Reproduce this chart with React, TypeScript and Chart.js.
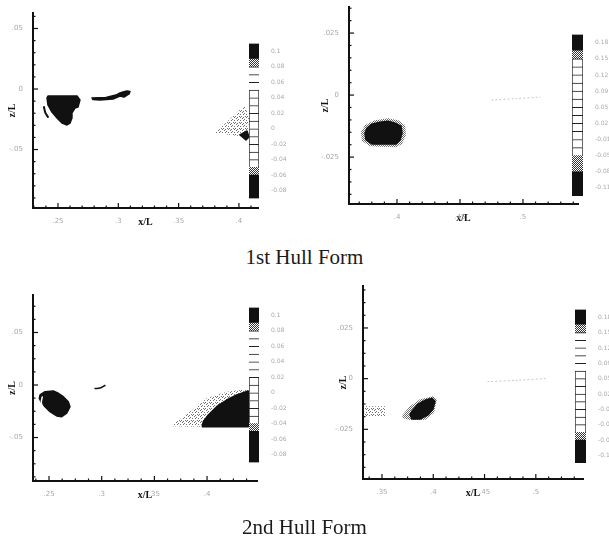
import React, { useEffect, useRef } from 'react';
import { Chart, registerables } from 'chart.js';
Chart.register(...registerables);

// ---------- Panel 1 (1st hull form, left) ----------
const P1_X_RANGE = [0.2293, 0.4158];
const P1_Z_RANGE = [-0.0983, 0.0628];
const P1_X_TICKS = [0.25, 0.3, 0.35, 0.4];
const P1_X_LABELS = ['.25', '.3', '.35', '.4'];
const P1_Z_TICKS = [0.05, 0, -0.05];
const P1_Z_LABELS = ['.05', '0', '-.05'];
const P1_VORTEX = [[0.2409, -0.0074], [0.2417, -0.0058], [0.2658, -0.0058], [0.2682, -0.0091], [0.2666, -0.0149], [0.2641, -0.0157], [0.2616, -0.0198], [0.2616, -0.024], [0.26, -0.0281], [0.2575, -0.0297], [0.2533, -0.0281], [0.2492, -0.024], [0.245, -0.019], [0.2417, -0.0132]];
const P1_CRESCENT = [[0.2384, -0.0149], [0.2395, -0.0195], [0.2417, -0.0231]];
const P1_STREAK = [[0.2782, -0.0074], [0.2898, -0.007], [0.2981, -0.005], [0.3014, -0.0033], [0.3039, -0.0025], [0.3072, -0.0017], [0.3097, -0.0021], [0.3089, -0.0041], [0.3047, -0.0066], [0.3014, -0.0058], [0.2956, -0.0083], [0.2848, -0.0091], [0.279, -0.0087]];
const P1_WAKE = [[0.405, -0.0132], [0.3802, -0.0363], [0.4067, -0.0396], [0.4083, -0.024]];
const P1_WEDGE = [[0.4009, -0.038], [0.4067, -0.0347], [0.4083, -0.0396], [0.4058, -0.0421]];
const P1_CB_LEVELS = ['k', 'k', 'g', 'w', 'w', 'w', 'b', 'b', 'b', 'b', 'b', 'b', 'b', 'b', 'b', 'b', 'g', 'k', 'k', 'k'];
const P1_CB_LABELS = ['0.1', '0.08', '0.06', '0.04', '0.02', '0', '-0.02', '-0.04', '-0.06', '-0.08'];

// ---------- Panel 2 (1st hull form, right) ----------
const P2_X_RANGE = [0.3619, 0.5437];
const P2_Z_RANGE = [-0.0439, 0.0355];
const P2_X_TICKS = [0.4, 0.45, 0.5];
const P2_X_LABELS = ['.4', '.45', '.5'];
const P2_Z_TICKS = [0.025, 0, -0.025];
const P2_Z_LABELS = ['.025', '0', '-.025'];
const P2_HALO = [[0.3714, -0.0149], [0.3746, -0.0121], [0.3825, -0.0101], [0.3929, -0.0093], [0.4008, -0.0101], [0.4064, -0.0121], [0.4071, -0.0161], [0.404, -0.0197], [0.3992, -0.021], [0.3786, -0.0206], [0.3722, -0.0185]];
const P2_VORTEX = [[0.3762, -0.0133], [0.3801, -0.0117], [0.3865, -0.0109], [0.3929, -0.0105], [0.3984, -0.0113], [0.4032, -0.0125], [0.404, -0.0153], [0.4024, -0.0181], [0.3992, -0.0197], [0.3801, -0.0197], [0.3754, -0.0181], [0.3746, -0.0153]];
const P2_TRACE = [[0.4754, -0.002], [0.495, -0.0014], [0.5135, -0.0008]];
const P2_CB_LEVELS = ['k', 'k', 'g', 'b', 'b', 'b', 'b', 'b', 'b', 'b', 'b', 'b', 'b', 'b', 'b', 'g', 'g', 'k', 'k', 'k'];
const P2_CB_LABELS = ['0.18', '0.15', '0.12', '0.09', '0.05', '0.02', '-0.01', '-0.05', '-0.08', '-0.11'];

// ---------- Panel 3 (2nd hull form, left) ----------
const P3_X_RANGE = [0.2348, 0.4474];
const P3_Z_RANGE = [-0.0914, 0.0857];
const P3_X_TICKS = [0.25, 0.3, 0.35, 0.4];
const P3_X_LABELS = ['.25', '.3', '.35', '.4'];
const P3_Z_TICKS = [0.05, 0, -0.05];
const P3_Z_LABELS = ['.05', '0', '-.05'];
const P3_VORTEX = [[0.2415, -0.0095], [0.2462, -0.0064], [0.2541, -0.0057], [0.2588, -0.0079], [0.2636, -0.0111], [0.2683, -0.0159], [0.2699, -0.0207], [0.2668, -0.0269], [0.2621, -0.0302], [0.2573, -0.0295], [0.2509, -0.0254], [0.2462, -0.0207], [0.2424, -0.0159], [0.2408, -0.0127]];
const P3_GAP = [[0.2436, -0.0114], [0.2427, -0.0162], [0.2436, -0.021], [0.2455, -0.0238]];
const P3_STREAK = [[0.2937, -0.0033], [0.2984, -0.0029], [0.3031, -0.0005]];
const P3_WAKE = [[0.3648, -0.0393], [0.3838, -0.0254], [0.3997, -0.0127], [0.4186, -0.0064], [0.4391, -0.0038], [0.4391, -0.0097], [0.3955, -0.0397]];
const P3_CORE = [[0.3955, -0.0397], [0.3964, -0.0349], [0.4012, -0.0286], [0.4091, -0.0207], [0.4186, -0.0143], [0.4281, -0.0095], [0.4391, -0.0057], [0.4391, -0.0397]];
const P3_CB_LEVELS = ['k', 'k', 'g', 'w', 'w', 'w', 'w', 'w', 'w', 'b', 'b', 'b', 'b', 'b', 'b', 'g', 'k', 'k', 'k', 'k'];
const P3_CB_LABELS = ['0.1', '0.08', '0.06', '0.04', '0.02', '0', '-0.02', '-0.04', '-0.06', '-0.08'];

// ---------- Panel 4 (2nd hull form, right) ----------
const P4_X_RANGE = [0.3315, 0.546];
const P4_Z_RANGE = [-0.0495, 0.0456];
const P4_X_TICKS = [0.35, 0.4, 0.45, 0.5];
const P4_X_LABELS = ['.35', '.4', '.45', '.5'];
const P4_Z_TICKS = [0.025, 0, -0.025];
const P4_Z_LABELS = ['.025', '0', '-.025'];
const P4_HALO = [[0.3705, -0.0175], [0.3773, -0.0136], [0.3871, -0.0102], [0.3997, -0.0087], [0.4036, -0.0102], [0.4007, -0.017], [0.3919, -0.0204], [0.3773, -0.0204], [0.3695, -0.0194]];
const P4_VORTEX = [[0.3793, -0.016], [0.3851, -0.0126], [0.3919, -0.0107], [0.3988, -0.0097], [0.4017, -0.0112], [0.3997, -0.015], [0.3949, -0.0179], [0.3871, -0.0199], [0.3793, -0.0199], [0.3773, -0.0179]];
const P4_EDGE = [[0.3334, -0.0136], [0.3529, -0.0136], [0.3529, -0.0184], [0.3334, -0.0184]];
const P4_TRACE = [[0.4534, -0.0015], [0.482, -0.0008], [0.5109, 0.0001]];
const P4_CB_LEVELS = ['k', 'k', 'g', 'w', 'w', 'w', 'w', 'w', 'b', 'b', 'b', 'b', 'b', 'b', 'b', 'b', 'g', 'k', 'k', 'k'];
const P4_CB_LABELS = ['0.18', '0.15', '0.12', '0.09', '0.05', '0.02', '-0.01', '-0.05', '-0.08', '-0.11'];

const CAPTIONS = ['1st Hull Form', '2nd Hull Form'];

const toPts = (arr: number[][]) => arr.map(([x, y]) => ({ x, y }));

function makePattern(size: number, dots: number[][], color: string) {
  const c = document.createElement('canvas');
  c.width = size;
  c.height = size;
  const g = c.getContext('2d')!;
  g.fillStyle = '#ffffff';
  g.fillRect(0, 0, size, size);
  g.fillStyle = color;
  dots.forEach(([x, y]) => g.fillRect(x, y, 1, 1));
  return g.createPattern(c, 'repeat')!;
}

const polyPlugin = {
  id: 'polyFill',
  beforeDatasetsDraw(chart: any) {
    const ctx = chart.ctx;
    const a = chart.chartArea;
    chart.data.datasets.forEach((ds: any, i: number) => {
      if (!ds.poly) return;
      const pts = chart.getDatasetMeta(i).data;
      ctx.save();
      ctx.beginPath();
      ctx.rect(a.left, a.top, a.right - a.left, a.bottom - a.top);
      ctx.clip();
      ctx.beginPath();
      pts.forEach((p: any, j: number) => (j ? ctx.lineTo(p.x, p.y) : ctx.moveTo(p.x, p.y)));
      ctx.closePath();
      ctx.fillStyle = ds.polyFill;
      ctx.fill();
      if (ds.polyStroke) {
        ctx.lineJoin = 'round';
        ctx.lineWidth = 1.5;
        ctx.strokeStyle = ds.polyStroke;
        ctx.stroke();
      }
      ctx.restore();
    });
  },
};

const innerTicksPlugin = {
  id: 'innerTicks',
  afterDraw(chart: any, _args: any, opts: any) {
    const { ctx, chartArea: a, scales } = chart;
    ctx.save();
    ctx.strokeStyle = '#111';
    ctx.lineWidth = 1.2;
    const run = (scale: any, majors: number[], sub: number, horiz: boolean) => {
      const minor = (majors[1] - majors[0]) / sub;
      const lo = Math.min(scale.min, scale.max);
      const hi = Math.max(scale.min, scale.max);
      for (let k = -200; k <= 200; k++) {
        const v = majors[0] + k * minor;
        if (v < lo - 1e-9 || v > hi + 1e-9) continue;
        const len = k % sub === 0 ? 5 : 2.5;
        const p = scale.getPixelForValue(v);
        ctx.beginPath();
        if (horiz) {
          ctx.moveTo(p, a.bottom);
          ctx.lineTo(p, a.bottom - len);
        } else {
          ctx.moveTo(a.left, p);
          ctx.lineTo(a.left + len, p);
        }
        ctx.stroke();
      }
    };
    run(scales.x, opts.xTicks, opts.xSub, true);
    run(scales.y, opts.zTicks, opts.zSub, false);
    ctx.restore();
  },
};

const PANELS = [
  {
    left: 0, top: 0, w: 300, h: 240, padTop: 13, padRight: 42, xAxisH: 32, yAxisW: 33, xTitlePad: 12, yTitlePad: 6,
    xRange: P1_X_RANGE, zRange: P1_Z_RANGE, xTicks: P1_X_TICKS, xLabels: P1_X_LABELS, zTicks: P1_Z_TICKS, zLabels: P1_Z_LABELS, xSub: 5, zSub: 5,
    shapes: [
      { pts: P1_WAKE, fill: 'stip' },
      { pts: P1_VORTEX, fill: 'black' },
      { pts: P1_STREAK, fill: 'black' },
      { pts: P1_WEDGE, fill: 'black' },
    ],
    lines: [{ pts: P1_CRESCENT, color: '#111', width: 2, dash: [] }],
    cb: { left: 249, top: 36, w: 50, h: 170, padTop: 6, padBottom: 7, axisW: 40, levels: P1_CB_LEVELS, labels: P1_CB_LABELS },
  },
  {
    left: 300, top: 0, w: 309, h: 240, padTop: 7, padRight: 31, xAxisH: 36, yAxisW: 49, xTitlePad: 16, yTitlePad: 19,
    xRange: P2_X_RANGE, zRange: P2_Z_RANGE, xTicks: P2_X_TICKS, xLabels: P2_X_LABELS, zTicks: P2_Z_TICKS, zLabels: P2_Z_LABELS, xSub: 5, zSub: 5,
    shapes: [
      { pts: P2_HALO, fill: 'halo' },
      { pts: P2_VORTEX, fill: 'black' },
    ],
    lines: [{ pts: P2_TRACE, color: '#bbb', width: 1, dash: [1, 3] }],
    cb: { left: 572, top: 27, w: 37, h: 180, padTop: 6, padBottom: 11, axisW: 26, levels: P2_CB_LEVELS, labels: P2_CB_LABELS },
  },
  {
    left: 0, top: 280, w: 300, h: 240, padTop: 15, padRight: 43, xAxisH: 39, yAxisW: 33, xTitlePad: 19, yTitlePad: 6,
    xRange: P3_X_RANGE, zRange: P3_Z_RANGE, xTicks: P3_X_TICKS, xLabels: P3_X_LABELS, zTicks: P3_Z_TICKS, zLabels: P3_Z_LABELS, xSub: 4, zSub: 4,
    shapes: [
      { pts: P3_WAKE, fill: 'stip' },
      { pts: P3_CORE, fill: 'black' },
      { pts: P3_VORTEX, fill: 'black' },
    ],
    lines: [
      { pts: P3_GAP, color: '#ffffff', width: 1.5, dash: [] },
      { pts: P3_STREAK, color: '#111', width: 1.5, dash: [] },
    ],
    cb: { left: 249, top: 300, w: 50, h: 170, padTop: 6, padBottom: 6, axisW: 40, levels: P3_CB_LEVELS, labels: P3_CB_LABELS },
  },
  {
    left: 300, top: 280, w: 309, h: 240, padTop: 3, padRight: 26, xAxisH: 41, yAxisW: 63, xTitlePad: 21, yTitlePad: 37,
    xRange: P4_X_RANGE, zRange: P4_Z_RANGE, xTicks: P4_X_TICKS, xLabels: P4_X_LABELS, zTicks: P4_Z_TICKS, zLabels: P4_Z_LABELS, xSub: 4, zSub: 4,
    shapes: [
      { pts: P4_EDGE, fill: 'stip' },
      { pts: P4_HALO, fill: 'halo' },
      { pts: P4_VORTEX, fill: 'black' },
    ],
    lines: [{ pts: P4_TRACE, color: '#bbb', width: 1, dash: [1, 3] }],
    cb: { left: 575, top: 302, w: 34, h: 170, padTop: 6, padBottom: 9, axisW: 23, levels: P4_CB_LEVELS, labels: P4_CB_LABELS },
  },
];

function Panel({ cfg }: { cfg: any }) {
  const mainRef = useRef<HTMLCanvasElement>(null);
  const cbRef = useRef<HTMLCanvasElement>(null);

  useEffect(() => {
    const pats: any = {
      black: '#111111',
      stip: makePattern(6, [[0, 0], [3, 0], [1, 2], [5, 2], [2, 4], [4, 5], [0, 3], [3, 3]], '#707070'),
      halo: makePattern(2, [[0, 0], [1, 1]], '#6a6a6a'),
      cbGray: makePattern(2, [[0, 0], [1, 1]], '#333333'),
    };
    const tickFont = { size: 7, family: 'DejaVu Sans' };
    const titleFont = { size: 10, weight: 'bold' as const, family: 'Liberation Serif' };

    const datasets: any[] = [
      ...cfg.shapes.map((s: any) => ({
        data: toPts(s.pts),
        poly: true,
        polyFill: pats[s.fill],
        polyStroke: s.fill === 'black' ? '#111111' : null,
        showLine: false,
        pointRadius: 0,
      })),
      ...cfg.lines.map((l: any) => ({
        data: toPts(l.pts),
        showLine: true,
        borderColor: l.color,
        borderWidth: l.width,
        borderDash: l.dash,
        borderCapStyle: 'round',
        pointRadius: 0,
        tension: 0.3,
      })),
    ];

    const main = new Chart(mainRef.current!, {
      type: 'scatter',
      data: { datasets },
      options: {
        responsive: false,
        animation: false,
        events: [],
        layout: { padding: { left: 0, top: cfg.padTop, right: cfg.padRight, bottom: 0 } },
        plugins: {
          legend: { display: false },
          tooltip: { enabled: false },
          innerTicks: { xTicks: cfg.xTicks, zTicks: cfg.zTicks, xSub: cfg.xSub, zSub: cfg.zSub },
        } as any,
        scales: {
          x: {
            type: 'linear',
            min: cfg.xRange[0],
            max: cfg.xRange[1],
            grid: { display: false },
            border: { display: true, color: '#111', width: 2 },
            afterBuildTicks: (s: any) => { s.ticks = cfg.xTicks.map((v: number) => ({ value: v })); },
            afterFit: (s: any) => { s.height = cfg.xAxisH; },
            ticks: {
              autoSkip: false, maxRotation: 0, padding: 1, font: tickFont, color: '#a8a8a8',
              callback: (_v: any, i: number) => cfg.xLabels[i],
            },
            title: { display: true, text: 'x/L', font: titleFont, color: '#111', padding: { top: 0, bottom: cfg.xTitlePad } },
          },
          y: {
            type: 'linear',
            min: cfg.zRange[0],
            max: cfg.zRange[1],
            grid: { display: false },
            border: { display: true, color: '#111', width: 2 },
            afterBuildTicks: (s: any) => { s.ticks = cfg.zTicks.map((v: number) => ({ value: v })); },
            afterFit: (s: any) => { s.width = cfg.yAxisW; },
            ticks: {
              autoSkip: false, padding: 2, font: tickFont, color: '#a8a8a8',
              callback: (_v: any, i: number) => cfg.zLabels[i],
            },
            title: { display: true, text: 'z/L', font: titleFont, color: '#111', padding: { top: cfg.yTitlePad, bottom: 0 } },
          },
        },
      },
      plugins: [polyPlugin, innerTicksPlugin],
    } as any);

    const cb = cfg.cb;
    const n = cb.levels.length;
    const cbColor = (c: string) => (c === 'k' ? '#111111' : c === 'g' ? pats.cbGray : '#ffffff');
    const cbDatasets = cb.levels
      .slice()
      .reverse()
      .map((c: string) => ({
        data: [1],
        backgroundColor: cbColor(c),
        borderColor: '#222',
        borderWidth: c === 'b' ? { top: 1, left: 1, right: 1, bottom: 0 } : c === 'w' ? { top: 1, left: 0, right: 0, bottom: 0 } : 0,
        borderSkipped: false,
        barPercentage: 1,
        categoryPercentage: 1,
      }));
    const cbTickPos = cb.labels.map((_l: string, i: number) => n - 1 - 2 * i);
    const colorbar = new Chart(cbRef.current!, {
      type: 'bar',
      data: { labels: [''], datasets: cbDatasets },
      options: {
        responsive: false,
        animation: false,
        events: [],
        layout: { padding: { left: 0, right: 0, top: cb.padTop, bottom: cb.padBottom } },
        plugins: { legend: { display: false }, tooltip: { enabled: false } },
        scales: {
          x: { stacked: true, display: false },
          y: {
            stacked: true,
            position: 'right',
            min: 0,
            max: n,
            grid: { display: false },
            border: { display: false },
            afterBuildTicks: (s: any) => { s.ticks = cbTickPos.map((v: number) => ({ value: v })); },
            afterFit: (s: any) => { s.width = cb.axisW; },
            ticks: {
              autoSkip: false, padding: 4, font: { size: 6, family: 'DejaVu Sans' }, color: '#aaaaaa',
              callback: (_v: any, i: number) => cb.labels[i],
            },
          },
        },
      },
    } as any);

    return () => {
      main.destroy();
      colorbar.destroy();
    };
  }, [cfg]);

  const abs = (l: number, t: number, w: number, h: number): React.CSSProperties => ({
    position: 'absolute', left: l, top: t, width: w, height: h,
  });

  return (
    <>
      <canvas ref={mainRef} width={cfg.w} height={cfg.h} style={abs(cfg.left, cfg.top, cfg.w, cfg.h)} />
      <canvas ref={cbRef} width={cfg.cb.w} height={cfg.cb.h} style={abs(cfg.cb.left, cfg.cb.top, cfg.cb.w, cfg.cb.h)} />
    </>
  );
}

export default function App() {
  const captionStyle = (top: number): React.CSSProperties => ({
    position: 'absolute', left: 0, top, width: 609, textAlign: 'center',
    fontFamily: '"Liberation Serif", "DejaVu Serif", serif', fontSize: 21, lineHeight: '24px', color: '#1a1a1a',
  });
  return (
    <div style={{ position: 'absolute', left: 0, top: 0, width: 609, height: 543, background: '#ffffff', overflow: 'hidden' }}>
      {PANELS.map((p, i) => (
        <Panel key={i} cfg={p} />
      ))}
      <div style={captionStyle(245)}>{CAPTIONS[0]}</div>
      <div style={captionStyle(515)}>{CAPTIONS[1]}</div>
    </div>
  );
}
